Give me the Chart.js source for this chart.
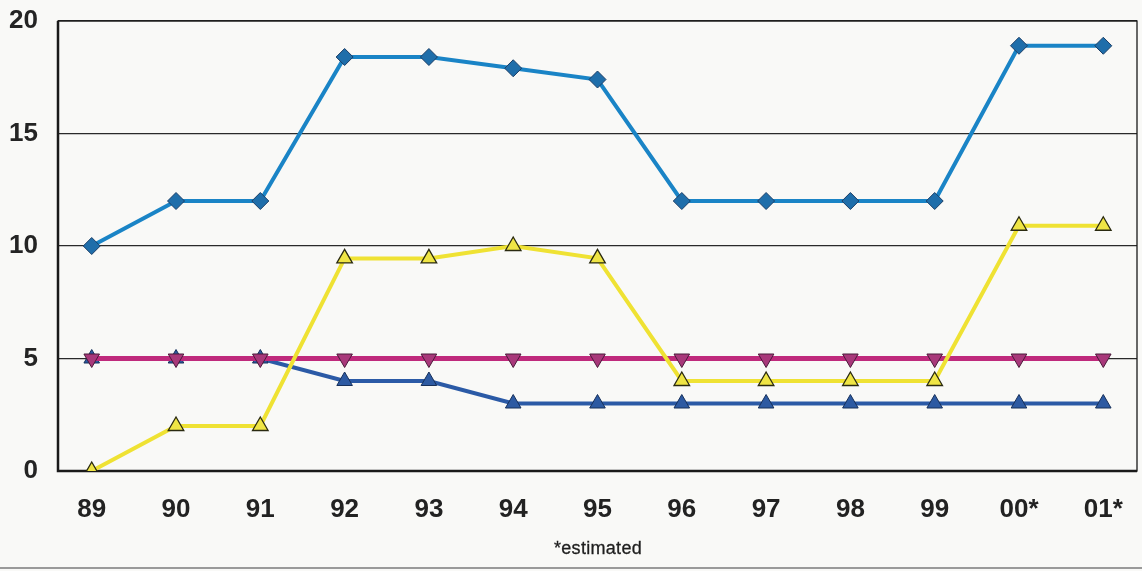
<!DOCTYPE html>
<html>
<head>
<meta charset="utf-8">
<script src="https://cdn.jsdelivr.net/npm/chart.js@4"></script>
<style>
  html, body { margin: 0; padding: 0; background: #f9f9f7; }
  #wrap { position: relative; width: 1142px; height: 571px; overflow: hidden; }
  #c { position: absolute; left: 0; top: 0; }
  #note { position: absolute; left: 0; width: 1196px; top: 538px; text-align: center;
          font: 18px "Liberation Sans", Arial, sans-serif; color: #1e1e1e; letter-spacing: 0.3px;
          -webkit-text-stroke: 0.3px #1e1e1e; }
  #scanline { position: absolute; left: 0; top: 567px; width: 1142px; height: 2px; background: #9a9a9a; }
</style>
</head>
<body>
<div id="wrap">
  <canvas id="c" width="1142" height="571"></canvas>
  <div id="note">*estimated</div>
  <div id="scanline"></div>
</div>
<script>
const years = ["89","90","91","92","93","94","95","96","97","98","99","00*","01*"];
const seriesLightBlue = [10, 12, 12, 18.4, 18.4, 17.9, 17.4, 12, 12, 12, 12, 18.9, 18.9];
const seriesYellow    = [0, 2, 2, 9.45, 9.45, 10, 9.45, 4, 4, 4, 4, 10.9, 10.9];
const seriesMagenta   = [5, 5, 5, 5, 5, 5, 5, 5, 5, 5, 5, 5, 5];
const seriesDarkBlue  = [5, 5, 5, 4, 4, 3, 3, 3, 3, 3, 3, 3, 3];
const yTicks = [0, 5, 10, 15, 20];

const toPts = arr => arr.map((v, i) => ({ x: i, y: v }));

const framePlugin = {
  id: 'frame',
  beforeDatasetsDraw(chart) {
    const { ctx, chartArea: a } = chart;
    ctx.save();
    ctx.strokeStyle = '#1a1a1a';
    ctx.lineWidth = 1.3;
    ctx.strokeRect(a.left, a.top, a.right - a.left, a.bottom - a.top);
    ctx.lineWidth = 2.5;
    ctx.beginPath();
    ctx.moveTo(a.left, a.top);
    ctx.lineTo(a.left, a.bottom);
    ctx.lineTo(a.right, a.bottom);
    ctx.stroke();
    ctx.restore();
  }
};

const bold = { family: '"Liberation Sans", Arial, sans-serif', size: 26, weight: 'bold' };

new Chart(document.getElementById('c'), {
  type: 'line',
  data: {
    datasets: [
      { data: toPts(seriesLightBlue), borderColor: '#1a84c6', borderWidth: 4,
        pointStyle: 'rectRot', pointRadius: 8.5, pointBackgroundColor: '#1f6eaa',
        pointBorderColor: '#1b3e66', pointBorderWidth: 1, order: 1 },
      { data: toPts(seriesYellow), borderColor: '#efe233', borderWidth: 4,
        pointStyle: 'triangle', pointRadius: 9, pointBackgroundColor: '#efe545',
        pointBorderColor: '#2a2a10', pointBorderWidth: 1.3, order: 2 },
      { data: toPts(seriesMagenta), borderColor: '#bf2a7c', borderWidth: 5,
        pointStyle: 'triangle', pointRotation: 180, pointRadius: 9, pointBackgroundColor: '#a8387a',
        pointBorderColor: '#4a1a3a', pointBorderWidth: 1, order: 3 },
      { data: toPts(seriesDarkBlue), borderColor: '#2b5aa6', borderWidth: 4,
        pointStyle: 'triangle', pointRadius: 9, pointBackgroundColor: '#2d5aa2',
        pointBorderColor: '#17305a', pointBorderWidth: 1, order: 4 }
    ]
  },
  options: {
    responsive: false,
    animation: false,
    devicePixelRatio: 1,
    layout: { autoPadding: false, padding: { top: 21, right: 5, left: 0, bottom: 0 } },
    plugins: { legend: { display: false }, tooltip: { enabled: false } },
    elements: { line: { tension: 0 } },
    scales: {
      x: {
        type: 'linear', min: -0.4, max: 12.4,
        afterFit(s) { s.height = 100; s.paddingLeft = 0; s.paddingRight = 0; },
        afterBuildTicks(s) { s.ticks = years.map((_, i) => ({ value: i })); },
        ticks: { callback: v => years[v], font: bold, color: '#222', padding: 23,
                 maxRotation: 0, autoSkip: false },
        grid: { display: false, drawTicks: false },
        border: { display: false }
      },
      y: {
        min: 0, max: 20,
        afterFit(s) { s.width = 58; s.paddingTop = 0; s.paddingBottom = 0; },
        afterBuildTicks(s) { s.ticks = yTicks.map(v => ({ value: v })); },
        ticks: { font: bold, color: '#242424', padding: 20 },
        grid: { color: '#2a2a2a', lineWidth: 1.2, drawTicks: false },
        border: { display: false }
      }
    }
  },
  plugins: [framePlugin]
});
</script>
</body>
</html>
